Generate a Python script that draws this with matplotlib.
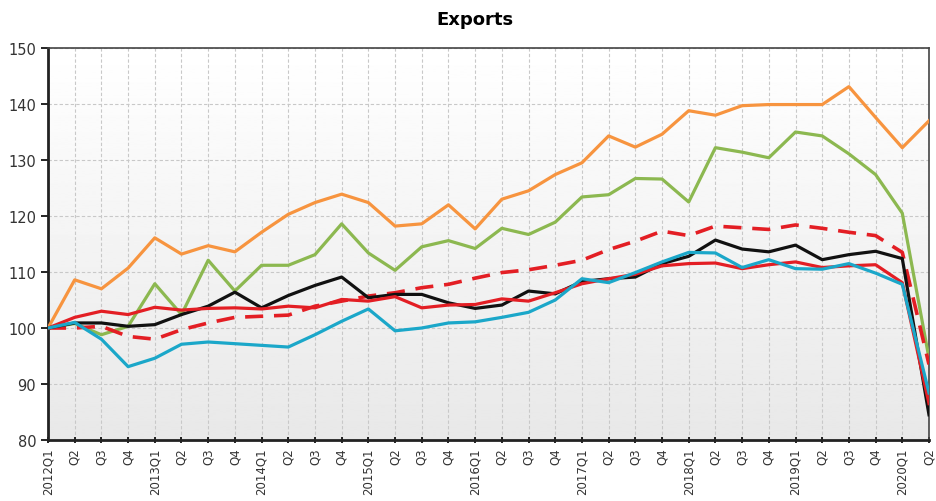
import numpy as np
import matplotlib
matplotlib.use("Agg")
import matplotlib.pyplot as plt

years = list(range(2012, 2021))
quarters = []
for y in years:
    for q in range(1, 5):
        if y == 2020 and q > 2:
            break
        quarters.append(f"{y}Q1" if q == 1 else f"Q{q}")

orange = [100, 108.6, 107.0, 110.7, 116.1, 113.2, 114.7, 113.6, 117.1, 120.3, 122.4,
          123.9, 122.4, 118.2, 118.6, 122.0, 117.7, 123.0, 124.5, 127.4, 129.5, 134.3,
          132.3, 134.6, 138.8, 138.0, 139.7, 139.9, 139.9, 139.9, 143.1, 137.6, 132.2, 137.0]
green = [100, 100.8, 98.8, 100.3, 107.9, 102.4, 112.1, 106.6, 111.2, 111.2, 113.1,
         118.6, 113.4, 110.3, 114.5, 115.6, 114.2, 117.8, 116.7, 118.9, 123.4, 123.8,
         126.7, 126.6, 122.5, 132.2, 131.4, 130.4, 135.0, 134.3, 131.1, 127.4, 120.5, 94.6]
black = [100, 100.9, 100.9, 100.3, 100.6, 102.4, 103.9, 106.4, 103.6, 105.8, 107.6,
         109.1, 105.4, 106.0, 106.0, 104.5, 103.5, 104.1, 106.6, 106.1, 108.3, 108.8,
         109.1, 111.5, 112.8, 115.7, 114.1, 113.6, 114.8, 112.2, 113.1, 113.7, 112.4, 84.5]
cyan = [100, 101.0, 98.0, 93.1, 94.6, 97.1, 97.5, 97.2, 96.9, 96.6, 98.8,
        101.2, 103.4, 99.5, 100.0, 100.9, 101.1, 101.9, 102.8, 105.0, 108.8, 108.1,
        109.9, 111.8, 113.5, 113.4, 110.8, 112.2, 110.6, 110.5, 111.5, 109.8, 107.8, 88.4]
red = [100, 101.9, 103.0, 102.4, 103.7, 103.2, 103.5, 103.6, 103.4, 103.9, 103.6,
       105.1, 104.8, 105.6, 103.6, 104.1, 104.2, 105.2, 104.8, 106.3, 107.9, 108.8,
       109.6, 111.1, 111.5, 111.6, 110.6, 111.3, 111.8, 110.8, 111.1, 111.3, 108.1, 86.5]
red_dashed = [100, 100.0, 100.3, 98.5, 98.0, 99.7, 100.9, 101.9, 102.1, 102.3, 103.9,
              104.8, 105.7, 106.3, 107.2, 107.8, 108.9, 109.9, 110.4, 111.2, 112.1, 114.0,
              115.5, 117.3, 116.5, 118.2, 117.9, 117.6, 118.4, 117.8, 117.1, 116.5, 113.5, 93.5]

x = np.arange(len(quarters))

fig = plt.figure(figsize=(9.36, 5.02), dpi=100)
ax = fig.add_axes([0.0513, 0.1215, 0.9412, 0.7809])

# soft vertical gradient background
grad = np.linspace(1.0, 0.91, 256).reshape(-1, 1)
ax.imshow(grad, cmap="gray", vmin=0, vmax=1, aspect="auto",
          extent=[0, 1, 0, 1], transform=ax.transAxes, zorder=0)

ax.plot(x, orange, color="#f7943f", lw=2.3, zorder=3)
ax.plot(x, green, color="#8cb850", lw=2.3, zorder=3)
ax.plot(x, red_dashed, color="#e31e24", lw=2.6, ls=(0, (5, 3)), zorder=3)
ax.plot(x, black, color="#111111", lw=2.3, zorder=4)
ax.plot(x, red, color="#e31e24", lw=2.3, zorder=4)
ax.plot(x, cyan, color="#1ba7c9", lw=2.3, zorder=5)

ax.set_xlim(0, len(quarters) - 1)
ax.set_ylim(80, 150)
ax.set_yticks(range(80, 151, 10))
ax.set_xticks(x)
ax.set_xticklabels(quarters, rotation=90, fontsize=8.5, color="#333333")
ax.tick_params(axis="y", labelsize=10.5, labelcolor="#333333", length=5, width=1.2, direction="out")
ax.tick_params(axis="x", length=5, width=1.2, direction="inout", pad=3)

ax.grid(True, color="#c8c8c8", ls=(0, (3, 2)), lw=0.8, zorder=1)
ax.set_axisbelow(True)

ax.spines["left"].set_linewidth(2.0)
ax.spines["bottom"].set_linewidth(2.0)
ax.spines["left"].set_color("#222222")
ax.spines["bottom"].set_color("#222222")
ax.spines["top"].set_color("#444444")
ax.spines["right"].set_color("#444444")
ax.spines["top"].set_linewidth(1.2)
ax.spines["right"].set_linewidth(1.2)

fig.text(0.507, 0.96, "Exports", ha="center", va="center", fontsize=13, fontweight="bold")

fig.savefig("out.png", dpi=100)
